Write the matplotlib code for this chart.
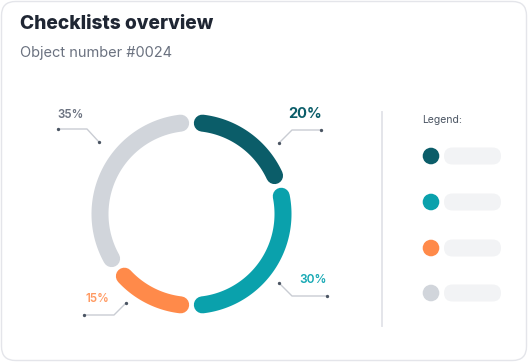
import numpy as np
import matplotlib
matplotlib.use("Agg")
import matplotlib.pyplot as plt
from matplotlib.patches import FancyBboxPatch, Circle

plt.rcParams['font.family'] = ['Inter', 'DejaVu Sans']

# ---
# data
# ---
shares = [20, 30, 15, 35]
labels = ["20%", "30%", "15%", "35%"]
colors = ["#0b5d69", "#0aa1ac", "#ff8a4a", "#d1d5db"]
label_colors = ["#0b5d69", "#17a9b4", "#ff9a62", "#6b7280"]

# ---
# layout (pixel coordinates)
# ---
W, H = 528, 362
cx, cy = 191.5, 214
r_mid = 91.5
ring_w = 17           # px
gap_deg = 6.8         # trimmed at each end (cap + gap)

fig = plt.figure(figsize=(W / 100, H / 100), dpi=100)
ax = fig.add_axes([0, 0, 1, 1])
ax.set_xlim(0, W)
ax.set_ylim(H, 0)
ax.axis("off")

# card
card = FancyBboxPatch((1.5, 1.5), W - 3, H - 3,
                      boxstyle="round,pad=0,rounding_size=14",
                      facecolor="white", edgecolor="#e4e5ea", linewidth=1.0)
ax.add_patch(card)

# title
ax.text(20, 24, "Checklists overview", fontsize=13.8, fontweight=800,
        color="#1f2633", va="center", ha="left")
ax.text(20, 53, "Object number #0024", fontsize=10.5,
        color="#6b7280", va="center", ha="left")

# donut arcs, clockwise from 12 o'clock
lw_pt = ring_w * 72 / 100
start = 90.0
for share, col in zip(shares, colors):
    span = share / 100 * 360
    a0 = start - gap_deg
    a1 = start - span + gap_deg
    th = np.radians(np.linspace(a0, a1, 120))
    ax.plot(cx + r_mid * np.cos(th), cy - r_mid * np.sin(th),
            color=col, linewidth=lw_pt, solid_capstyle="round")
    start -= span

# leader lines and value labels
leaders = [
    [(279, 143), (292, 130), (321, 130)],
    [(279, 283), (292, 296), (327, 296)],
    [(126, 303), (114, 315), (84, 315)],
    [(99, 142), (87, 129), (58, 129)],
]
label_pos = [(305, 114), (313, 280), (97, 299), (71, 115)]
label_size = [10.5, 8.6, 8.3, 8.3]
label_weight = ["bold", "semibold", "semibold", "semibold"]
for pts, (lx, ly), lab, lc, fs, fw in zip(leaders, label_pos, labels,
                                          label_colors, label_size, label_weight):
    xs = [p[0] for p in pts]
    ys = [p[1] for p in pts]
    ax.plot(xs, ys, color="#c9ccd3", linewidth=1.0)
    ax.plot([xs[0], xs[-1]], [ys[0], ys[-1]], "o", color="#4b5563",
            markersize=2.4, markeredgewidth=0)
    ax.text(lx, ly, lab, fontsize=fs, fontweight=fw, color=lc,
            ha="center", va="center")

# divider
ax.plot([382, 382], [112, 326], color="#e4e5ea", linewidth=1.4)

# legend
ax.text(422, 120, "Legend:", fontsize=7.5, color="#4b5563",
        ha="left", va="center")
legend_y = [156, 202, 248, 293]
for ly, col in zip(legend_y, colors):
    ax.add_patch(Circle((431, ly), 8.3, facecolor=col, edgecolor="none"))
    pill = FancyBboxPatch((444, ly - 8.5), 57, 17,
                          boxstyle="round,pad=0,rounding_size=8.5",
                          facecolor="#f2f3f5", edgecolor="none")
    ax.add_patch(pill)

fig.savefig("out.png", dpi=100)
